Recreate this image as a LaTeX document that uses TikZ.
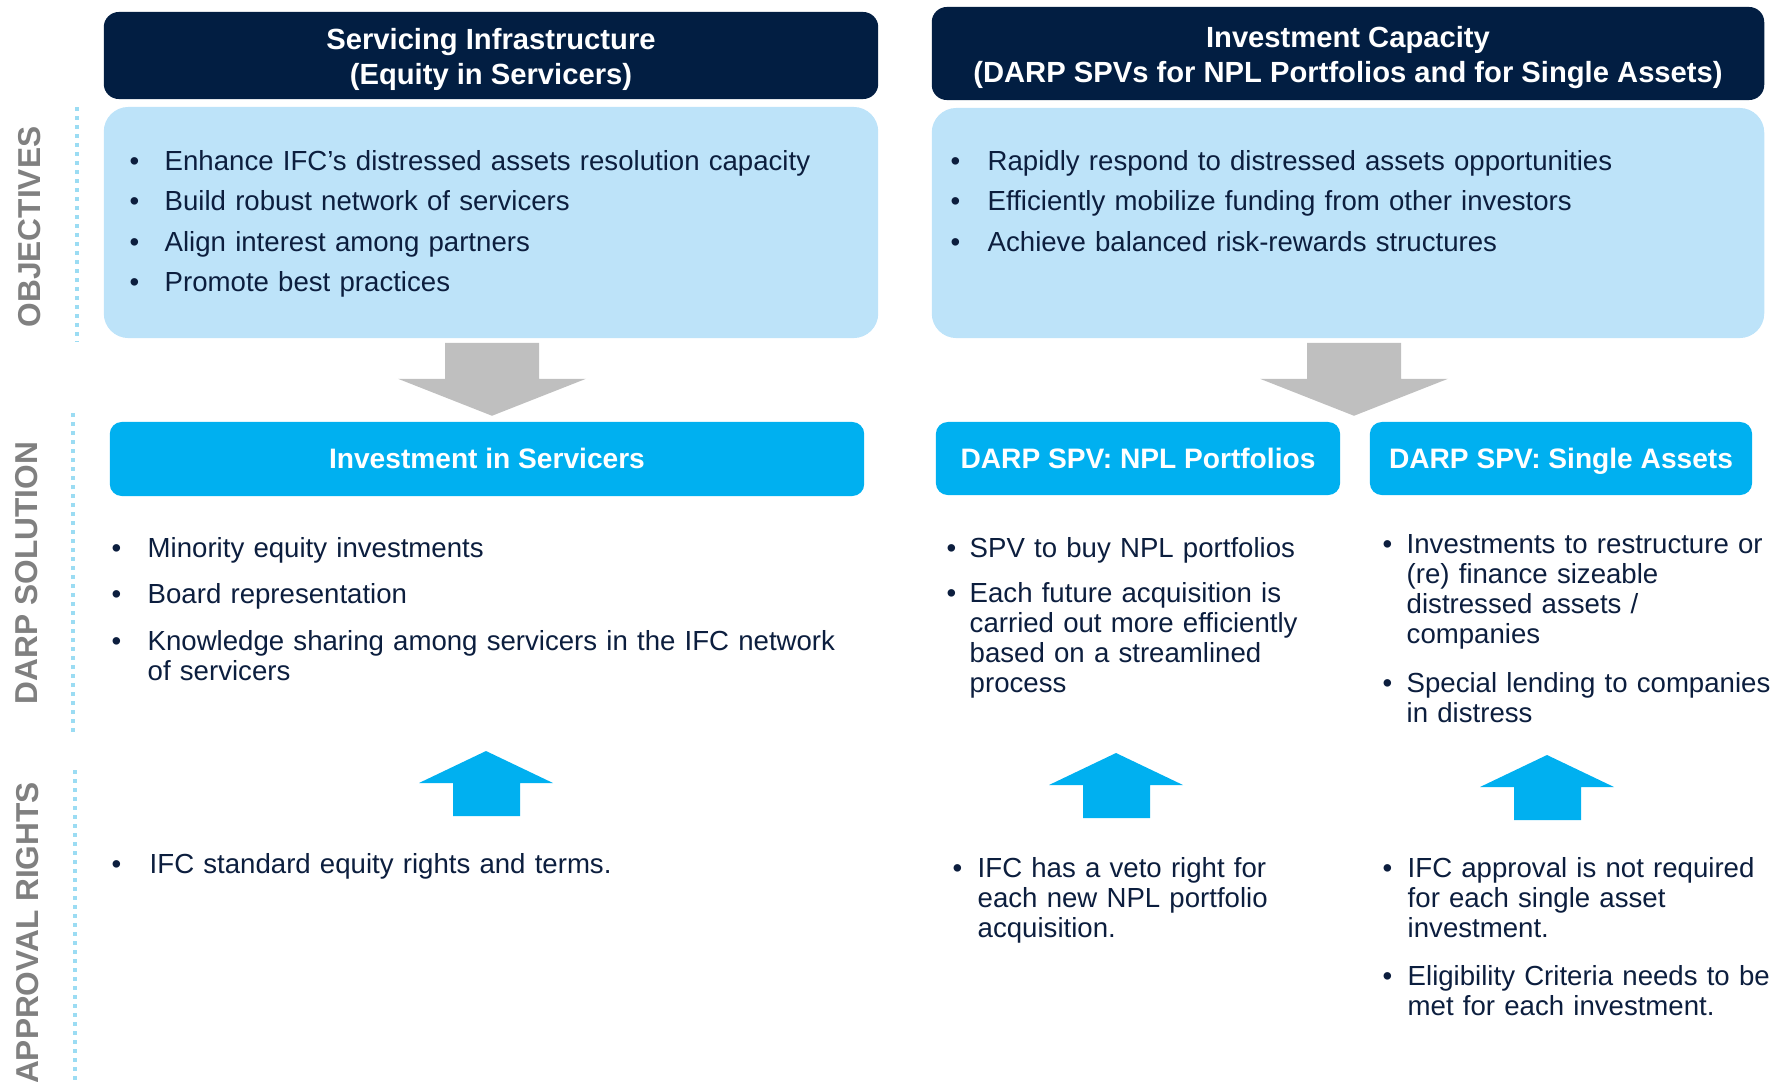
\documentclass[tikz,border=0pt]{standalone}
\usepackage{fontspec}
\setmainfont{Liberation Sans}
\usetikzlibrary{calc}

\definecolor{navy}{HTML}{021E42}
\definecolor{textnavy}{HTML}{0C1E3E}
\definecolor{paleblue}{HTML}{BDE3F9}
\definecolor{brightblue}{HTML}{00B0F0}
\definecolor{arrowgray}{HTML}{BFBFBF}
\definecolor{labelgray}{HTML}{808080}
\definecolor{dotblue}{HTML}{9BDCF3}

\newlength{\bulind}
\newcommand{\bitem}[1]{\hangindent=\bulind\hangafter=1\noindent\hbox to\bulind{\textbullet\hfil}#1\par}

\tikzset{
  header/.style = {fill=navy, text=white, rounded corners=4.3pt, align=center,
                   inner ysep=0, text height=18.4pt, font=\fontsize{8.3}{10}\selectfont\bfseries},
  objbox/.style = {fill=paleblue, rounded corners=7pt},
  solbox/.style = {fill=brightblue, text=white, rounded corners=3.4pt,
                   text height=6.5pt, text depth=1pt,
                   font=\fontsize{8}{9.6}\selectfont\bfseries},
  bullets/.style n args = {3}{anchor=base west, inner sep=0, align=left,
                   text=textnavy, text width=#1, font=\fontsize{7.85}{8.55}\selectfont,
                   execute at begin node={\setlength{\bulind}{#2}\setlength{\parskip}{#3}}},
  rowlabel/.style = {rotate=90, text=labelgray, font=\fontsize{9}{10}\selectfont\bfseries},
  rowline/.style = {dotblue, line width=1.14pt, dash pattern=on 1.14pt off 1.42pt},
  gray down/.pic = {\fill[arrowgray] (-47,0) -- (47,0) -- (47,36) -- (94,36)
                    -- (0,73) -- (-94,36) -- (-47,36) -- cycle;},
  blue up/.pic = {\fill[brightblue] (0,0) -- (67,32) -- (34,32) -- (34,65)
                  -- (-33,65) -- (-33,32) -- (-67,32) -- cycle;},
}

\begin{document}
\begin{tikzpicture}[x=0.01cm, y=-0.01cm]
\useasboundingbox (0,0) rectangle (1772,1081);

% row labels
\node[rowlabel] (objlab) at (30,227) {OBJECTIVES};
\node[rowlabel] (sollab) at (27,573) {DARP SOLUTION};
\node[rowlabel] (applab) at (28,933) {APPROVAL RIGHTS};
\draw[rowline] (77,107) -- (77,342);
\draw[rowline] (73,413) -- (73,733);
\draw[rowline] (75,770) -- (75,1081);

% headers and objectives
\node[header, minimum width=7.74cm, minimum height=0.87cm] (headL) at (491,55.5)
  {Servicing Infrastructure\\(Equity in Servicers)};
\node[header, minimum width=8.32cm, minimum height=0.93cm] (headR) at (1348,53.5)
  {Investment Capacity\\(DARP SPVs for NPL Portfolios and for Single Assets)};
\node[objbox, minimum width=7.74cm, minimum height=2.31cm] (objL) at (491,222.5) {};
\node[objbox, minimum width=8.32cm, minimum height=2.30cm] (objR) at (1348,223) {};

\node[bullets={7.4cm}{0.35cm}{3pt}] (objLtxt) at (129,170) {%
  \bitem{Enhance IFC’s distressed assets resolution capacity}
  \bitem{Build robust network of servicers}
  \bitem{Align interest among partners}
  \bitem{Promote best practices}};
\node[bullets={7.5cm}{0.37cm}{3pt}] (objRtxt) at (950,170) {%
  \bitem{Rapidly respond to distressed assets opportunities}
  \bitem{Efficiently mobilize funding from other investors}
  \bitem{Achieve balanced risk-rewards structures}};

\pic at ($(objL.south)+(1,4)$) {gray down};
\pic at ($(objR.south)+(6,4)$) {gray down};

% DARP solution
\node[solbox, minimum width=7.54cm, minimum height=0.74cm] (solL) at (487,459) {Investment in Servicers};
\node[solbox, minimum width=4.04cm, minimum height=0.73cm] (solM) at (1138,458.5) {DARP SPV: NPL Portfolios};
\node[solbox, minimum width=3.82cm, minimum height=0.73cm] (solR) at (1561,458.5) {DARP SPV: Single Assets};

\node[bullets={7.6cm}{0.36cm}{4.7pt}] (solLtxt) at (111,557) {%
  \bitem{Minority equity investments}
  \bitem{Board representation}
  \bitem{Knowledge sharing among servicers in the IFC network\newline of servicers}};
\node[bullets={4cm}{0.23cm}{4.3pt}] (solMtxt) at (946,557) {%
  \bitem{SPV to buy NPL portfolios}
  \bitem{Each future acquisition is\newline carried out more efficiently\newline based on a streamlined\newline process}};
\node[bullets={4.2cm}{0.24cm}{5.4pt}] (solRtxt) at (1382,553) {%
  \bitem{Investments to restructure or\newline (re) finance sizeable\newline distressed assets /\newline companies}
  \bitem{Special lending to companies\newline in distress}};

% approval rights
\pic at (486,751) {blue up};
\pic at (1116,753) {blue up};
\pic at (1547,755) {blue up};

\node[bullets={7.6cm}{0.38cm}{4.7pt}] (appLtxt) at (111,873) {%
  \bitem{IFC standard equity rights and terms.}};
\node[bullets={4cm}{0.25cm}{4.7pt}] (appMtxt) at (952,877) {%
  \bitem{IFC has a veto right for\newline each new NPL portfolio\newline acquisition.}};
\node[bullets={4.2cm}{0.25cm}{5.1pt}] (appRtxt) at (1382,877) {%
  \bitem{IFC approval is not required\newline for each single asset\newline investment.}
  \bitem{Eligibility Criteria needs to be\newline met for each investment.}};
\end{tikzpicture}
\end{document}
